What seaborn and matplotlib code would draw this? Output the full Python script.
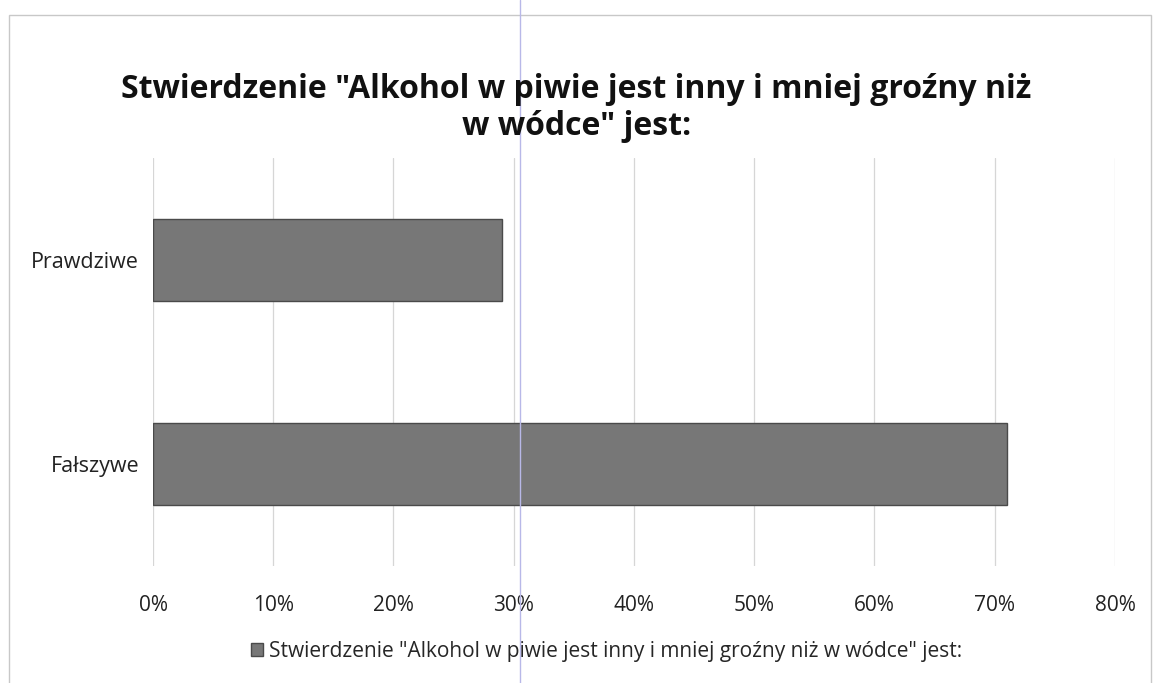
import matplotlib
matplotlib.use("Agg")
import matplotlib.pyplot as plt
from matplotlib.lines import Line2D
from matplotlib.patches import Rectangle, Patch
from matplotlib.ticker import FuncFormatter
import seaborn as sns
import pandas as pd

categories = ["Prawdziwe", "Fałszywe"]
values = [0.29, 0.71]
series_name = 'Stwierdzenie "Alkohol w piwie jest inny i mniej groźny niż w wódce" jest:'
title = 'Stwierdzenie "Alkohol w piwie jest inny i mniej groźny niż\nw wódce" jest:'

sns.set_theme(style="white")
plt.rcParams['font.family'] = ['Open Sans', 'DejaVu Sans']

df = pd.DataFrame({"cat": categories, "val": values})

fig = plt.figure(figsize=(11.53, 6.83), dpi=100)
ax = fig.add_axes([0.1327, 0.171, 0.8343, 0.598])

sns.barplot(data=df, x="val", y="cat", orient="h", order=categories,
            color="#777777", edgecolor="#4a4a4a", linewidth=1.0,
            width=0.4, saturation=1, ax=ax)

ax.set_xlim(0, 0.8)
ax.set_xticks([i / 10 for i in range(9)])
ax.xaxis.set_major_formatter(FuncFormatter(lambda v, p: f"{round(v*100)}%"))
ax.grid(axis="x", color="#d6d6d6", linewidth=0.9)
ax.set_axisbelow(True)
for s in ax.spines.values():
    s.set_visible(False)
ax.set_xlabel("")
ax.set_ylabel("")
ax.tick_params(axis="x", labelsize=15, colors="#222222", length=0, pad=21)
ax.tick_params(axis="y", labelsize=15.5, colors="#222222", length=0, pad=10)

fig.suptitle(title, x=0.5, y=0.893, fontsize=23, fontweight="bold",
             color="#111111", linespacing=1.15)

ax.legend(handles=[Patch(facecolor="#777777", edgecolor="#4a4a4a")],
          labels=[series_name], loc="center", bbox_to_anchor=(0.526, 0.046),
          bbox_transform=fig.transFigure, frameon=False, fontsize=15,
          handlelength=0.6, handleheight=0.6, handletextpad=0.3)

# outer chart frame
fig.add_artist(Rectangle((0.008, -0.01), 0.99, 0.988, transform=fig.transFigure,
                         fill=False, edgecolor="#c8c8c8", linewidth=1.0))
# scan artifact line
fig.add_artist(Line2D([0.451, 0.451], [0, 1], transform=fig.transFigure,
                      color="#b8b8e8", linewidth=1.0))

fig.savefig("out.png", dpi=100)
